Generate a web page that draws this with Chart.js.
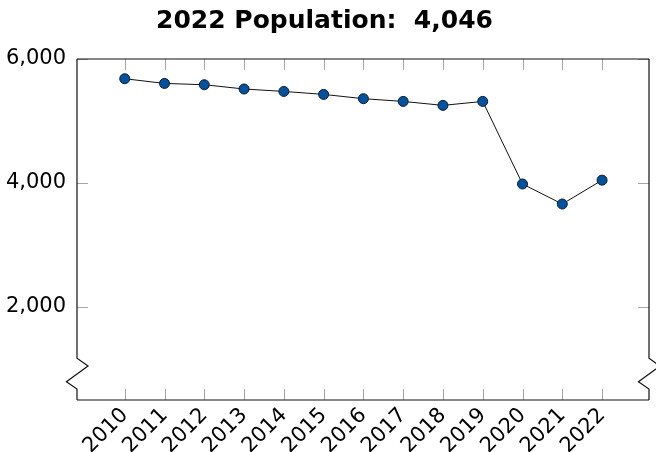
<!DOCTYPE html>
<html>
<head>
<meta charset="utf-8">
<title>Population</title>
<script src="https://cdn.jsdelivr.net/npm/chart.js@4"></script>
<style>
    html, body { margin: 0; padding: 0; background: #fff; }
    #wrap { width: 656px; height: 452px; }
</style>
</head>
<body>
<div id="wrap"><canvas id="popChart" width="656" height="452"></canvas></div>
<script>
// Anni e popolazione
const years = [2010, 2011, 2012, 2013, 2014, 2015, 2016, 2017, 2018, 2019, 2020, 2021, 2022];
const population = [5682, 5606, 5585, 5516, 5477, 5429, 5360, 5316, 5252, 5316, 3984, 3661, 4046];
const yTicks = [2000, 4000, 6000];
const titleText = '2022 Population:  4,046';

// Cornice degli assi con interruzione in basso + tacche interne
const axisFrame = {
    id: 'axisFrame',
    afterDraw(chart) {
        const ctx = chart.ctx;
        const a = chart.chartArea;
        const xs = chart.scales.x;
        const ys = chart.scales.y;

        ctx.save();

        // tacche grigie verso l'interno
        ctx.strokeStyle = '#a6a6a6';
        ctx.lineWidth = 1;
        ctx.beginPath();
        years.forEach(function (yr) {
            const px = Math.round(xs.getPixelForValue(yr)) + 0.5;
            ctx.moveTo(px, a.top);
            ctx.lineTo(px, a.top + 11);
            ctx.moveTo(px, a.bottom);
            ctx.lineTo(px, a.bottom - 11);
        });
        yTicks.forEach(function (v) {
            const py = Math.round(ys.getPixelForValue(v)) + 0.5;
            ctx.moveTo(a.left, py);
            ctx.lineTo(a.left + 11, py);
            ctx.moveTo(a.right, py);
            ctx.lineTo(a.right - 11, py);
        });
        ctx.stroke();

        // bordo nero, zigzag sui lati vicino al fondo
        ctx.strokeStyle = '#111';
        ctx.lineWidth = 1.2;
        const side = function (x) {
            ctx.moveTo(x, a.top);
            ctx.lineTo(x, a.bottom - 41.7);
            ctx.lineTo(x + 11, a.bottom - 34);
            ctx.lineTo(x - 10.6, a.bottom - 18.3);
            ctx.lineTo(x, a.bottom - 11);
            ctx.lineTo(x, a.bottom);
        };
        ctx.beginPath();
        ctx.moveTo(a.left, a.top);
        ctx.lineTo(a.right, a.top);
        ctx.moveTo(a.left, a.bottom);
        ctx.lineTo(a.right, a.bottom);
        side(a.left);
        side(a.right);
        ctx.stroke();

        ctx.restore();
    }
};

function populationChart() {
    const ctx = document.getElementById('popChart');

    new Chart(ctx, {
        type: 'line',
        data: {
            datasets: [{
                data: years.map((yr, i) => ({ x: yr, y: population[i] })),
                borderColor: '#111',
                borderWidth: 1,
                backgroundColor: '#04519c',
                pointBackgroundColor: '#04519c',
                pointBorderColor: '#0c1c33',
                pointBorderWidth: 1,
                pointRadius: 5,
                tension: 0,
                fill: false
            }]
        },
        options: {
            responsive: false,
            animation: false,
            layout: {
                padding: { left: 0, right: 7, top: 0, bottom: 0 }
            },
            plugins: {
                legend: { display: false },
                tooltip: { enabled: false },
                title: {
                    display: true,
                    text: titleText,
                    color: '#000',
                    font: { family: 'DejaVu Sans', size: 25, weight: 'bold', lineHeight: 1.2 },
                    padding: { top: 6, bottom: 23 }
                }
            },
            scales: {
                x: {
                    type: 'linear',
                    min: 2008.8,
                    max: 2023.18,
                    grid: { display: false, drawTicks: false },
                    border: { display: false },
                    afterBuildTicks: function (scale) {
                        scale.ticks = years.map(v => ({ value: v }));
                    },
                    afterFit: function (scale) {
                        scale.height = 52;
                    },
                    ticks: {
                        autoSkip: false,
                        minRotation: 45,
                        maxRotation: 45,
                        padding: 3,
                        color: '#000',
                        font: { family: 'DejaVu Sans', size: 21 },
                        callback: v => String(v)
                    }
                },
                y: {
                    min: 500,
                    max: 6000,
                    grid: { display: false, drawTicks: false },
                    border: { display: false },
                    afterBuildTicks: function (scale) {
                        scale.ticks = yTicks.map(v => ({ value: v }));
                    },
                    afterFit: function (scale) {
                        scale.width = 77;
                    },
                    ticks: {
                        padding: 11,
                        color: '#000',
                        font: { family: 'DejaVu Sans', size: 21 },
                        callback: v => v.toLocaleString('en-US')
                    }
                }
            }
        },
        plugins: [axisFrame]
    });
}

document.addEventListener('DOMContentLoaded', populationChart);
</script>
</body>
</html>
